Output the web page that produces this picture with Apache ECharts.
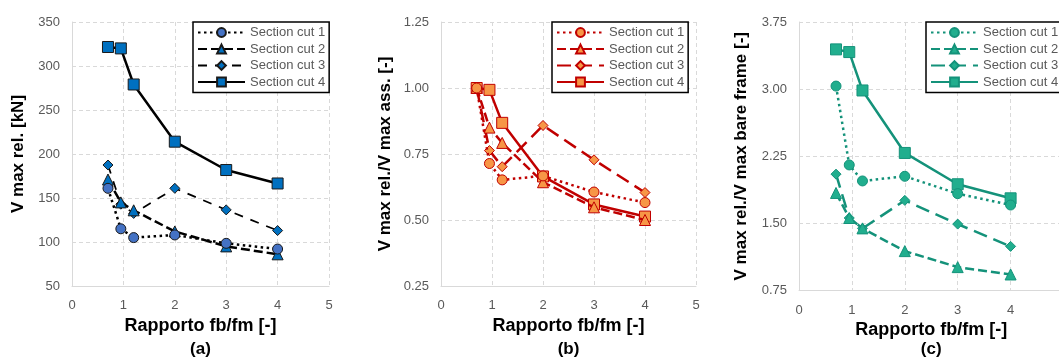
<!DOCTYPE html>
<html>
<head>
<meta charset="utf-8">
<script src="https://cdn.jsdelivr.net/npm/echarts@6/dist/echarts.min.js"></script>
<style>
html,body{margin:0;padding:0;background:#fff;}
#chart{width:1059px;height:358px;}
</style>
</head>
<body>
<div id="chart"></div>
<script>
// ---- data ----
const xValues = [0.7, 0.95, 1.2, 2, 3, 4];
const legendLabels = ['Section cut 1', 'Section cut 2', 'Section cut 3', 'Section cut 4'];
const panelLabels = ['(a)', '(b)', '(c)'];
const xAxisTitle = 'Rapporto fb/fm [-]';
const yAxisTitles = ['V max rel. [kN]', 'V max rel./V max ass. [-]', 'V max rel./V max bare frame [-]'];

const aCut1 = [161, 115, 105, 108, 98.5, 92];
const aCut2 = [171, 145, 136, 112, 95, 86];
const aCut3 = [187.5, 143, 132.5, 161, 136.5, 113];
const aCut4 = [321.6, 320, 279, 214, 181.8, 166.5];

const bCut1 = [1.0, 0.714, 0.652, 0.667, 0.606, 0.566];
const bCut2 = [1.0, 0.85, 0.792, 0.643, 0.548, 0.5];
const bCut3 = [1.0, 0.763, 0.702, 0.858, 0.728, 0.604];
const bCut4 = [1.0, 0.993, 0.868, 0.665, 0.559, 0.513];

const cCut1 = [3.034, 2.153, 1.974, 2.026, 1.832, 1.705];
const cCut2 = [1.84, 1.56, 1.444, 1.19, 1.011, 0.929];
const cCut3 = [2.05, 1.56, 1.444, 1.757, 1.492, 1.243];
const cCut4 = [3.444, 3.414, 2.985, 2.287, 1.937, 1.78];

const xTicks = {min: 0, max: 5, interval: 1};
const yTicksA = {min: 50, max: 350, interval: 50};
const yTicksB = {min: 0.25, max: 1.25, interval: 0.25};
const yTicksC = {min: 0.75, max: 3.75, interval: 0.75};

// ---- styling ----
const FONT = 'Liberation Sans';
const gridColor = '#D9D9D9';
const labelColor = '#595959';

const panels = [
  {key:'a', data:[aCut1,aCut2,aCut3,aCut4], y:yTicksA, dec:0,
   line:'#000000', fill:['#4472C4','#0070C0','#0070C0','#0070C0'], border:'#1a1a1a',
   grid:{left:72, width:257, top:22, height:264}, legend:{left:193, top:22},
   nameGapY:45, nameGapX:30, labelY:349, showMax:true},
  {key:'b', data:[bCut1,bCut2,bCut3,bCut4], y:yTicksB, dec:2,
   line:'#C00000', fill:['#F79646','#F79646','#F79646','#F79646'], border:'#C00000',
   grid:{left:441, width:255, top:22, height:264}, legend:{left:552, top:22},
   nameGapY:47, nameGapX:30, labelY:349, showMax:true},
  {key:'c', data:[cCut1,cCut2,cCut3,cCut4], y:yTicksC, dec:2,
   line:'#14927A', fill:['#21AE8E','#21AE8E','#21AE8E','#21AE8E'], border:'#14927A',
   grid:{left:799, width:264.5, top:22, height:268.5}, legend:{left:926, top:22},
   nameGapY:49, nameGapX:27, labelY:349, showMax:false}
];

const symbols = ['circle','triangle','diamond','rect'];
const symbolSizes = [10, 11, 10, 11];
const dashTypesA = [[2.5,3.5],[9,4],[9,8],'solid'];
const dashTypesBC = [[2.5,3.5],[9,4],[14,7],'solid'];
const widthsA = [2.5, 2.5, 1.75, 2.5];
const widthsBC = [2.5, 2.5, 2.5, 2.5];

const grids = [], xAxes = [], yAxes = [], series = [], legends = [], graphics = [];

panels.forEach((p, i) => {
  grids.push(Object.assign({containLabel:false, outerBoundsMode:'none'}, p.grid));
  xAxes.push({
    type:'value', gridIndex:i, min:xTicks.min, max:xTicks.max, interval:xTicks.interval,
    name: xAxisTitle, nameLocation:'middle', nameGap:p.nameGapX,
    nameTextStyle:{fontFamily:FONT, fontSize:18, fontWeight:'bold', color:'#000'},
    axisLine:{show:true, lineStyle:{color:gridColor, width:1}},
    axisTick:{show:false},
    axisLabel:{fontFamily:FONT, fontSize:13, color:labelColor, margin:13, showMaxLabel:p.showMax},
    splitLine:{show:true, lineStyle:{color:gridColor, type:[4,3], width:1}}
  });
  yAxes.push({
    type:'value', gridIndex:i, min:p.y.min, max:p.y.max, interval:p.y.interval,
    name: yAxisTitles[i], nameLocation:'middle', nameGap:p.nameGapY, nameRotate:90,
    nameTextStyle:{fontFamily:FONT, fontSize:17, fontWeight:'bold', color:'#000'},
    axisLine:{show:true, lineStyle:{color:gridColor, width:1}},
    axisTick:{show:false},
    axisLabel:{fontFamily:FONT, fontSize:13, color:labelColor, margin:12,
      formatter: v => v.toFixed(p.dec)},
    splitLine:{show:true, lineStyle:{color:gridColor, type:[4,3], width:1}}
  });
  const names = [];
  p.data.forEach((arr, k) => {
    const nm = legendLabels[k] + ' ' + p.key;
    names.push(nm);
    series.push({
      type:'line', name:nm, xAxisIndex:i, yAxisIndex:i,
      data: xValues.map((x, j) => [x, arr[j]]),
      symbol: symbols[k], symbolSize: symbolSizes[k], showSymbol:true,
      lineStyle:{color:p.line, width:(i===0?widthsA:widthsBC)[k],
        type:(i===0?dashTypesA:dashTypesBC)[k], join:'round'},
      itemStyle:{color:p.fill[k], borderColor:p.border, borderWidth:1},
      z: 2 + (3 - k),
      animation:false
    });
  });
  legends.push({
    orient:'vertical', left:p.legend.left, top:p.legend.top,
    data:names, selectedMode:false,
    backgroundColor:'#fff', borderColor:'#000', borderWidth:1.5,
    padding:[4,4,4,4], itemGap:3.5, itemWidth:47, itemHeight:11,
    textStyle:{fontFamily:FONT, fontSize:13, color:labelColor},
    formatter: name => name.slice(0, name.length - 2)
  });
  const g = p.grid;
  graphics.push({
    type:'text', x: g.left + g.width / 2, y: p.labelY,
    style:{text: panelLabels[i], fontFamily:FONT, fontSize:17, fontWeight:'bold',
      fill:'#000', textAlign:'center', textVerticalAlign:'middle'}
  });
});

const chart = echarts.init(document.getElementById('chart'), null, {renderer:'canvas'});
chart.setOption({
  animation:false,
  backgroundColor:'#fff',
  grid:grids, xAxis:xAxes, yAxis:yAxes, series:series, legend:legends,
  graphic:graphics
});
</script>
</body>
</html>
